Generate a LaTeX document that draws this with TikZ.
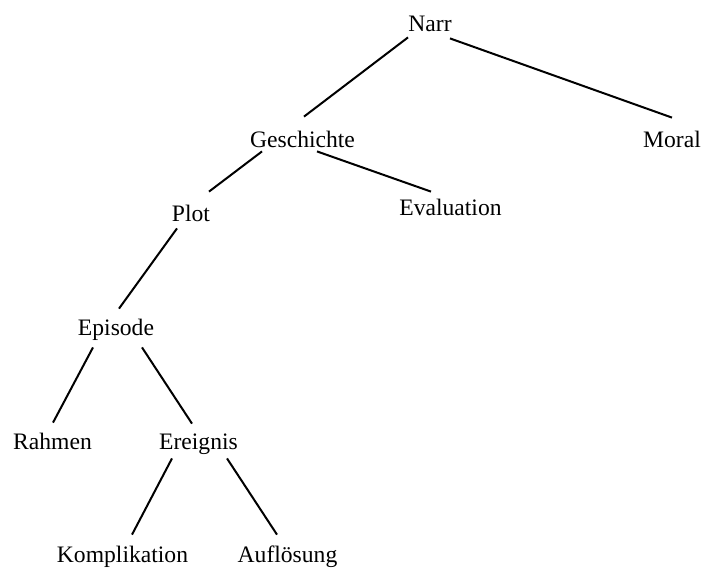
\documentclass[tikz,border=0pt]{standalone}
\usepackage{fontspec}
\setmainfont{Liberation Serif}
\usetikzlibrary{calc}

\tikzset{
  cat/.style={inner sep=0pt, text height=8pt, text depth=0pt, anchor=base,
    font=\fontsize{11.8}{14}\selectfont},
  branch/.style={line width=1pt}
}

\begin{document}
\begin{tikzpicture}[x=0.5pt,y=-0.5pt]
        \useasboundingbox (0,0) rectangle (704,570);

        \node[cat] (narr) at (430,31) {Narr};
        \node[cat] (gesch) at (302.5,147) {Geschichte};
        \node[cat] (moral) at (672,147) {Moral};
        \node[cat] (plot) at (191,221) {Plot};
        \node[cat] (eval) at (450.5,215) {Evaluation};
        \node[cat] (epis) at (116,335) {Episode};
        \node[cat] (rahmen) at (52.5,449) {Rahmen};
        \node[cat] (ereig) at (198.5,449) {Ereignis};
        \node[cat] (kompl) at (122.5,562) {Komplikation};
        \node[cat] (aufl) at (287.5,562) {Auflösung};

        \draw[branch] ($(narr.south)+(-22,6)$) -- ($(gesch.north)+(1.5,-14)$);
        \draw[branch] ($(narr.south)+(20,7)$) -- ($(moral.north)+(0,-13)$);

        \draw[branch] ($(gesch.south)+(-40.5,4)$) -- ($(plot.north)+(18,-13)$);
        \draw[branch] ($(gesch.south)+(14.5,4)$) -- ($(eval.north)+(-19.5,-7)$);

        \draw[branch] ($(plot.south)+(-14,7)$) -- ($(epis.north)+(3,-10)$);

        \draw[branch] ($(epis.south)+(-23,12)$) -- ($(rahmen.north)+(0.5,-10)$);
        \draw[branch] ($(epis.south)+(26,12)$) -- ($(ereig.north)+(-6.5,-9)$);

        \draw[branch] ($(ereig.south)+(-26.5,9)$) -- ($(kompl.north)+(9.5,-11)$);
        \draw[branch] ($(ereig.south)+(28.5,9)$) -- ($(aufl.north)+(-10.5,-11)$);
    \end{tikzpicture}
\end{document}
